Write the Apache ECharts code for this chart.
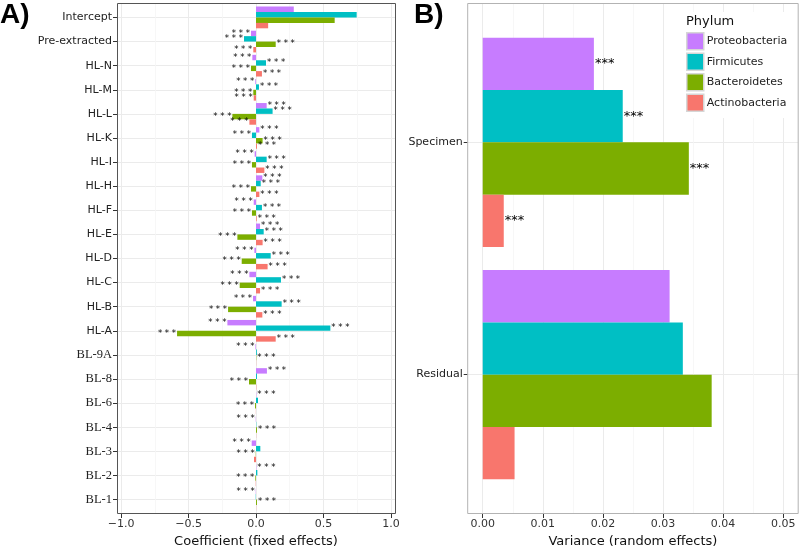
<!DOCTYPE html>
<html>
<head>
<meta charset="utf-8">
<script src="https://cdn.jsdelivr.net/npm/echarts@6/dist/echarts.min.js"></script>
<style>html,body{margin:0;padding:0;background:#fff}#c{width:800px;height:546px}</style>
</head>
<body>
<div id="c"></div>
<script>
// ---------- Data: panel A (fixed effects) ----------
const categoriesA = ['Intercept','Pre-extracted','HL-N','HL-M','HL-L','HL-K','HL-I','HL-H','HL-F','HL-E','HL-D','HL-C','HL-B','HL-A','BL-9A','BL-8','BL-6','BL-4','BL-3','BL-2','BL-1'];
const proteoA = [0.28,-0.037,-0.027,-0.005,0.079,0.025,-0.01,0.047,-0.017,0.03,-0.012,-0.049,-0.022,-0.212,-0.004,0.081,0.002,-0.002,-0.032,0.002,-0.002];
const firmA   = [0.746,-0.089,0.074,0.022,0.123,-0.03,0.079,0.035,0.044,0.057,0.109,0.185,0.19,0.551,0.006,0.007,0.015,0.002,0.032,0.01,-0.002];
const bactA   = [0.583,0.146,-0.037,-0.02,-0.175,0.049,-0.03,-0.037,-0.03,-0.138,-0.106,-0.121,-0.207,-0.585,0.002,-0.052,-0.007,0.007,-0.002,-0.005,0.007];
const actinoA = [0.09,-0.02,0.044,-0.017,-0.049,0.007,0.062,0.025,0.005,0.049,0.086,0.03,0.047,0.146,0.001,0.002,-0.001,0.001,-0.015,-0.002,0.001];
const sigProteoA = ['','***','***','***','***','***','***','***','***','***','***','***','***','***','***','***','***','***','***','***','***'];
const sigFirmA   = ['','***','***','***','***','***','***','***','***','***','***','***','***','***','','','','','','',''];
const sigBactA   = ['','***','***','***','***','***','***','***','***','***','***','***','***','***','***','***','***','***','***','***','***'];
const sigActinoA = ['','***','***','***','***','***','***','***','***','***','***','***','***','***','','','','','','',''];
const ticksA = [-1.0,-0.5,0.0,0.5,1.0];

// ---------- Data: panel B (random effects) ----------
const categoriesB = ['Specimen','Residual'];
const proteoB = [0.0185,0.0311];
const firmB   = [0.0233,0.0333];
const bactB   = [0.0343,0.0381];
const actinoB = [0.0035,0.0053];
const sigB    = ['***',''];
const ticksB  = [0.00,0.01,0.02,0.03,0.04,0.05];

const phyla = ['Proteobacteria','Firmicutes','Bacteroidetes','Actinobacteria'];
const colors = ['#C77CFF','#00BFC4','#7CAE00','#F8766D'];

// ---------- Layout ----------
const PA = {x0:117, x1:395, y0:3, y1:514, vmin:-1.03, vmax:1.03, lo:-1, hi:1};
const PB = {x0:467.7, x1:798.2, y0:3, y1:514, vmin:-0.0025, vmax:0.0525, lo:0, hi:0.05};
function xOf(P, v){ return P.x0 + (v - P.vmin)/(P.vmax - P.vmin)*(P.x1 - P.x0); }
const uA = (PA.y1-PA.y0)/(categoriesA.length - 1 + 1.2);
const uB = (PB.y1-PB.y0)/(categoriesB.length - 1 + 1.2);

function gridsFor(P, u, n){
  const xl = xOf(P,P.lo), xr = xOf(P,P.hi);
  const base = {outerBoundsMode:'none', containLabel:false};
  return [
    Object.assign({left:xl, top:P.y0, width:xr-xl, height:P.y1-P.y0}, base),            // vertical lines
    Object.assign({left:P.x0, top:P.y0+0.6*u, width:P.x1-P.x0, height:(n-1)*u}, base), // category lines + labels
    Object.assign({left:xl, top:P.y0+0.1*u, width:xr-xl, height:n*u}, base)            // bars
  ];
}
const grids = gridsFor(PA,uA,categoriesA.length).concat(gridsFor(PB,uB,categoriesB.length));

const axisTxt = {fontFamily:'DejaVu Sans', fontSize:11, color:'#333'};

const xAxes = [
  {gridIndex:0, type:'value', min:PA.lo, max:PA.hi, interval:0.5,
   axisLine:{show:false}, axisTick:{show:true, length:4, lineStyle:{color:'#333'}},
   axisLabel:Object.assign({margin:5, formatter:v=>{const s=Math.abs(v).toFixed(1);return v<0?'\u2212'+s:s;}}, axisTxt),
   splitLine:{show:true, lineStyle:{color:'#ebebeb', width:1}},
   minorTick:{show:false, splitNumber:2}, minorSplitLine:{show:true, lineStyle:{color:'#f5f5f5', width:0.8}},
   name:'Coefficient (fixed effects)', nameLocation:'middle', nameGap:18,
   nameTextStyle:{fontFamily:'DejaVu Sans', fontSize:13, color:'#111'}},
  {gridIndex:1, type:'value', show:false, min:0, max:1},
  {gridIndex:2, type:'value', show:false, min:PA.lo, max:PA.hi},
  {gridIndex:3, type:'value', min:PB.lo, max:PB.hi, interval:0.01,
   axisLine:{show:false}, axisTick:{show:true, length:4, lineStyle:{color:'#333'}},
   axisLabel:Object.assign({margin:5, formatter:v=>v.toFixed(2)}, axisTxt),
   splitLine:{show:true, lineStyle:{color:'#ebebeb', width:1}},
   minorTick:{show:false, splitNumber:2}, minorSplitLine:{show:true, lineStyle:{color:'#f5f5f5', width:0.8}},
   name:'Variance (random effects)', nameLocation:'middle', nameGap:18,
   nameTextStyle:{fontFamily:'DejaVu Sans', fontSize:13, color:'#111'}},
  {gridIndex:4, type:'value', show:false, min:0, max:1},
  {gridIndex:5, type:'value', show:false, min:PB.lo, max:PB.hi}
];

function catLabelFmt(v){ return v.indexOf('BL') === 0 ? '{s|' + v + '}' : '{a|' + v + '}'; }
const yAxes = [
  {gridIndex:0, type:'value', show:false},
  {gridIndex:1, type:'category', data:categoriesA, inverse:true, boundaryGap:false,
   axisLine:{show:false}, axisTick:{show:true, length:4, interval:0, lineStyle:{color:'#333'}},
   axisLabel:{margin:5, interval:0, formatter:catLabelFmt,
     rich:{a:{fontFamily:'DejaVu Sans', fontSize:11, color:'#222'},
           s:{fontFamily:'Liberation Serif', fontSize:12.5, color:'#222'}}},
   splitLine:{show:true, interval:0, lineStyle:{color:'#ebebeb', width:1}}},
  {gridIndex:2, type:'category', data:categoriesA, inverse:true, show:false},
  {gridIndex:3, type:'value', show:false},
  {gridIndex:4, type:'category', data:categoriesB, inverse:true, boundaryGap:false,
   axisLine:{show:false}, axisTick:{show:true, length:4, interval:0, lineStyle:{color:'#333'}},
   axisLabel:{margin:5, interval:0, formatter:v=>'{a|'+v+'}',
     rich:{a:{fontFamily:'DejaVu Sans', fontSize:11, color:'#222'}}},
   splitLine:{show:true, interval:0, lineStyle:{color:'#ebebeb', width:1}}},
  {gridIndex:5, type:'category', data:categoriesB, inverse:true, show:false}
];

function barSeries(name, color, values, sig, axisIdx, fontSize, starText){
  return {
    type:'bar', name:name, xAxisIndex:axisIdx, yAxisIndex:axisIdx,
    barWidth:'22.5%', barGap:'0%', itemStyle:{color:color},
    data: values.map((v,i)=>({value:v, label:{position: v < 0 ? 'left' : 'right'}})),
    label:{show:true, distance:1, fontFamily:'DejaVu Sans', fontSize:fontSize, color:'#000',
      formatter:p => sig[p.dataIndex] ? starText : ''},
    emphasis:{disabled:true}, animation:false
  };
}
const valsA = [proteoA, firmA, bactA, actinoA];
const sigsA = [sigProteoA, sigFirmA, sigBactA, sigActinoA];
const valsB = [proteoB, firmB, bactB, actinoB];
const series = [];
phyla.forEach((n,k)=>series.push(barSeries(n, colors[k], valsA[k], sigsA[k], 2, 8.5, '* * *')));
phyla.forEach((n,k)=>series.push(barSeries(n, colors[k], valsB[k], sigB, 5, 13, '***')));

const option = {
  animation:false,
  grid: grids,
  xAxis: xAxes,
  yAxis: yAxes,
  series: series,
  legend: {data:phyla, orient:'vertical', left:681, top:12, padding:[20,8,6,5],
    itemWidth:17, itemHeight:17, itemGap:2, icon:'rect', backgroundColor:'#fff',
    itemStyle:{borderColor:'#d6d6d6', borderWidth:1.5},
    textStyle:{fontFamily:'DejaVu Sans', fontSize:11, color:'#222', padding:[0,0,0,-2]}, selectedMode:false, z:20},
  title: {text:'Phylum', left:686, top:15, padding:0, z:30,
    textStyle:{fontFamily:'DejaVu Sans', fontSize:13, fontWeight:'normal', color:'#111'}},
  graphic: [
    {type:'rect', z:100, silent:true, shape:{x:PA.x0+0.5, y:PA.y0+0.5, width:PA.x1-PA.x0, height:PA.y1-PA.y0-1},
     style:{fill:'none', stroke:'#555', lineWidth:1}},
    {type:'rect', z:100, silent:true, shape:{x:PB.x0, y:PB.y0+0.5, width:PB.x1-PB.x0, height:PB.y1-PB.y0-1},
     style:{fill:'none', stroke:'#b3b3b3', lineWidth:1}},
    {type:'text', left:0, top:1, z:100, style:{text:'A)', font:'bold 28px "Liberation Sans"', fill:'#000'}},
    {type:'text', left:414, top:1, z:100, style:{text:'B)', font:'bold 28px "Liberation Sans"', fill:'#000'}}
  ]
};
const chart = echarts.init(document.getElementById('c'), null, {renderer:'canvas'});
chart.setOption(option);
</script>
</body>
</html>
